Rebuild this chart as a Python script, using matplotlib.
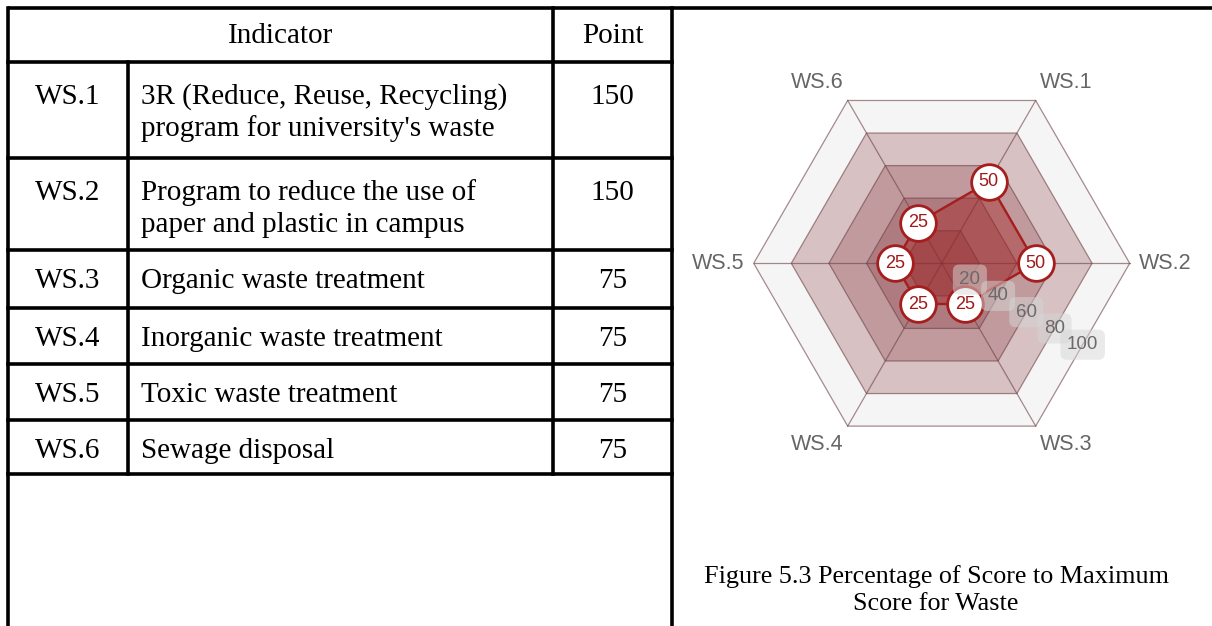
import numpy as np
import matplotlib
matplotlib.use("Agg")
import matplotlib.pyplot as plt
from matplotlib.patches import Polygon

# table content
codes = ["WS.1", "WS.2", "WS.3", "WS.4", "WS.5", "WS.6"]
descriptions = [
    "3R (Reduce, Reuse, Recycling)\nprogram for university's waste",
    "Program to reduce the use of\npaper and plastic in campus",
    "Organic waste treatment",
    "Inorganic waste treatment",
    "Toxic waste treatment",
    "Sewage disposal",
]
points = [150, 150, 75, 75, 75, 75]

# radar content (percentage of score to maximum)
radar_labels = ["WS.1", "WS.2", "WS.3", "WS.4", "WS.5", "WS.6"]
radar_values = [50, 50, 25, 25, 25, 25]
ring_levels = [20, 40, 60, 80, 100]

W, H = 1212, 626
fig = plt.figure(figsize=(W / 100, H / 100), dpi=100)
fig.patch.set_facecolor("white")

# background axes in pixel coordinates for the table
bg = fig.add_axes([0, 0, 1, 1])
bg.set_xlim(0, W)
bg.set_ylim(H, 0)
bg.axis("off")

serif = "Liberation Serif"
lw = 2.6
row_edges = [8, 62, 158, 250, 308, 364, 420, 474]
x_left, x_c1, x_c2, x_right = 8, 128, 553, 672

# borders
bg.plot([x_left, W], [8, 8], color="black", lw=lw, solid_capstyle="butt")
bg.plot([x_left, x_left], [8, H], color="black", lw=lw)
bg.plot([x_right, x_right], [8, H], color="black", lw=lw)
for y in row_edges[1:]:
    bg.plot([x_left, x_right], [y, y], color="black", lw=lw)
bg.plot([x_c1, x_c1], [row_edges[1], row_edges[-1]], color="black", lw=lw)
bg.plot([x_c2, x_c2], [row_edges[0], row_edges[-1]], color="black", lw=lw)

fs = 21
bg.text((x_left + x_c2) / 2, 36, "Indicator", family=serif, fontsize=fs,
        ha="center", va="center")
bg.text((x_c2 + x_right) / 2, 36, "Point", family=serif, fontsize=fs,
        ha="center", va="center")

for i, (code, desc, pt) in enumerate(zip(codes, descriptions, points)):
    top = row_edges[i + 1]
    lines = desc.split("\n")
    y0 = top + (35 if len(lines) > 1 else 31)
    bg.text((x_left + x_c1) / 2, y0, code, family=serif, fontsize=fs,
            ha="center", va="center")
    for j, line in enumerate(lines):
        bg.text(x_c1 + 13, y0 + j * 32, line, family=serif, fontsize=fs,
                ha="left", va="center")
    bg.text((x_c2 + x_right) / 2, y0, str(pt), family=serif, fontsize=fs,
            ha="center", va="center")

# caption
bg.text(936, 577, "Figure 5.3 Percentage of Score to Maximum", family=serif,
        fontsize=18.8, ha="center", va="center")
bg.text(936, 604, "Score for Waste", family=serif, fontsize=18.8,
        ha="center", va="center")

# radar chart
cx, cy, R = 941.7, 263.3, 188
half_w, half_h = 260, 220
scale = R / 100.0
ax = fig.add_axes([(cx - half_w) / W, (H - cy - half_h) / H,
                   2 * half_w / W, 2 * half_h / H])
ax.set_xlim(-half_w / scale, half_w / scale)
ax.set_ylim(-half_h / scale, half_h / scale)
ax.axis("off")
ax.patch.set_alpha(0)

angles = np.deg2rad([60, 0, -60, -120, 180, 120])
cosa, sina = np.cos(angles), np.sin(angles)
grid_col = (0.42, 0.25, 0.27, 0.6)

# ring fills (outer first)
for lev in ring_levels[::-1]:
    verts = np.column_stack([lev * cosa, lev * sina])
    if lev == 100:
        face = "#f6f5f5"
    else:
        face = (0.47, 0.12, 0.14, 0.24)
    ax.add_patch(Polygon(verts, closed=True, facecolor=face,
                         edgecolor=grid_col, lw=0.9))
# spokes
for c, s in zip(cosa, sina):
    ax.plot([0, 100 * c], [0, 100 * s], color=grid_col, lw=0.9)

# data polygon
vals = np.array(radar_values, dtype=float)
dx, dy = vals * cosa, vals * sina
ax.add_patch(Polygon(np.column_stack([dx, dy]), closed=True,
                     facecolor=(0.66, 0.1, 0.1, 0.38),
                     edgecolor="#a51d1d", lw=1.7, zorder=4))
ax.scatter(dx, dy, s=660, facecolor="white", edgecolor="#a51d1d",
           linewidth=2.0, zorder=5)
for x, y, v in zip(dx, dy, radar_values):
    ax.text(x, y, str(v), color="#a01818", fontsize=13, ha="center",
            va="center", family="Liberation Sans", zorder=6)

# scale labels along the -30 degree apothem
ang_s = np.deg2rad(-30)
for lev in ring_levels:
    r = lev * np.cos(np.deg2rad(30))
    ax.text(r * np.cos(ang_s), r * np.sin(ang_s), str(lev), color="#6a6a6a",
            fontsize=13.5, ha="center", va="center", family="Liberation Sans",
            zorder=7,
            bbox=dict(boxstyle="round,pad=0.35", fc=(0.84, 0.84, 0.84, 0.5),
                      ec="none"))

# category labels
for lab, c, s in zip(radar_labels, cosa, sina):
    px, py = 100 * c * scale, 100 * s * scale
    if abs(s) < 1e-6:
        px += 36 * np.sign(c)
    else:
        px += 30 * np.sign(c)
        py += 18 * np.sign(s)
    ax.text(px / scale, py / scale, lab, color="#666666", fontsize=15.5,
            ha="center", va="center", family="Liberation Sans")

fig.savefig("out.png", dpi=100)
